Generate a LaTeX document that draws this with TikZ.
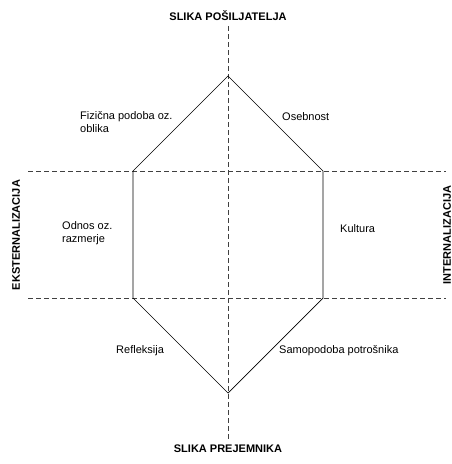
\documentclass[tikz,border=0pt]{standalone}
\usepackage{fontspec}
\setmainfont{Liberation Sans}
\begin{document}
\begin{tikzpicture}[x=1pt,y=-1pt,
  axis/.style={draw=black!75,line width=0.8pt,dash pattern=on 5pt off 3pt},
  hexline/.style={draw=black,line width=0.7pt},
  lbl/.style={font=\fontsize{11}{13}\selectfont,align=left,inner sep=0pt},
  title/.style={font=\fontsize{11}{13}\selectfont\bfseries,inner sep=0pt}]
\useasboundingbox (0,0) rectangle (451,464);
% axes
\coordinate (vt) at (228,26);
\coordinate (vb) at (228,440);
\coordinate (h1l) at (28,171);
\coordinate (h1r) at (446,171);
\coordinate (h2l) at (28,298);
\coordinate (h2r) at (446,298);
\draw[axis] (vt) -- (vb);
\draw[axis] (h1l) -- (h1r);
\draw[axis] (h2l) -- (h2r);
% hexagon
\coordinate (top) at (228,76);
\coordinate (ul) at (133,171);
\coordinate (ur) at (323,171);
\coordinate (ll) at (133,298);
\coordinate (lr) at (323,298);
\coordinate (bot) at (228,393);
\draw[hexline] (top) -- (ur) -- (lr) -- (bot) -- (ll) -- (ul) -- cycle;
% titles
\node[title] (ts) at (228,16) {SLIKA POŠILJATELJA};
\node[title] (tp) at (228,449) {SLIKA PREJEMNIKA};
\node[title,rotate=90] (te) at (16,235) {EKSTERNALIZACIJA};
\node[title,rotate=90] (ti) at (447,235) {INTERNALIZACIJA};
% labels
\node[lbl,anchor=west] (fiz) at (80,122) {Fizična podoba oz.\\oblika};
\node[lbl,anchor=west] (ose) at (282,117) {Osebnost};
\node[lbl,anchor=west] (odn) at (62,233) {Odnos oz.\\razmerje};
\node[lbl,anchor=west] (kul) at (340,229) {Kultura};
\node[lbl,anchor=west] (ref) at (116,351) {Refleksija};
\node[lbl,anchor=west] (sam) at (279,351) {Samopodoba potrošnika};
\end{tikzpicture}
\end{document}
